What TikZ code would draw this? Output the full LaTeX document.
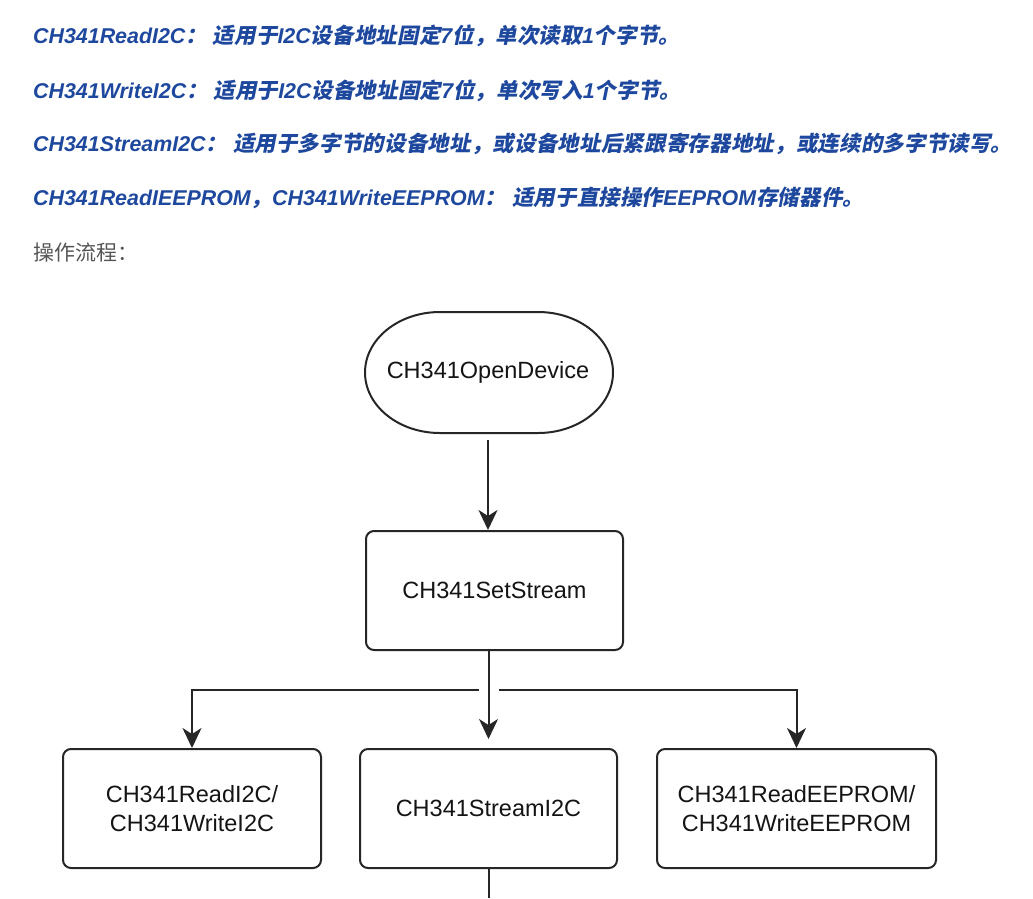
\documentclass[tikz,border=0pt]{standalone}
\usepackage{fontspec}
\setmainfont{Liberation Sans}
\newfontfamily\latf{Liberation Sans}
\newfontfamily\cjkf{Noto Sans CJK SC}[FakeSlant=0.2, LetterSpace=1.2]
\newfontfamily\cjkr{Noto Sans CJK SC}
\usetikzlibrary{arrows.meta}
\definecolor{hblue}{RGB}{30,72,158}
\definecolor{hgray}{RGB}{85,85,85}
\definecolor{lncol}{RGB}{38,38,38}
\definecolor{txcol}{RGB}{20,20,20}
\newcommand\myl[1]{{\latf\bfseries\itshape #1}}
\newcommand\myc[1]{{\cjkf\bfseries #1}}
\begin{document}
\begin{tikzpicture}[x=1pt,y=1pt,
  hd/.style={anchor=base west, inner sep=0, text=hblue, font=\fontsize{21.4}{25}\selectfont},
  box/.style={draw=lncol, line width=2pt, rounded corners=8pt, text=txcol,
    font=\fontsize{23.5}{29}\selectfont, align=center, inner sep=0, minimum height=119pt},
  conn/.style={draw=lncol, line width=2pt},
  arr/.style={conn, -{Stealth[length=20pt,width=19pt,inset=6pt]}}]
\useasboundingbox (0,0) rectangle (1033,-898);

% header text
\node[hd] (h1) at (33,-43) {\myl{CH341ReadI2C}\myc{：}\myl{~}\myc{适用于}\myl{I2C}\myc{设备地址固定}\myl{7}\myc{位，单次读取}\myl{1}\myc{个字节。}};
\node[hd] (h2) at (33,-98) {\myl{CH341WriteI2C}\myc{：}\myl{~}\myc{适用于}\myl{I2C}\myc{设备地址固定}\myl{7}\myc{位，单次写入}\myl{1}\myc{个字节。}};
\node[hd] (h3) at (33,-151) {\myl{CH341StreamI2C}\myc{：}\myl{~}\myc{适用于多字节的设备地址，或设备地址后紧跟寄存器地址，或连续的多字节读写。}};
\node[hd] (h4) at (33,-205) {\myl{CH341ReadIEEPROM}\myc{，}\myl{CH341WriteEEPROM}\myc{：}\myl{~}\myc{适用于直接操作}\myl{EEPROM}\myc{存储器件。}};
\node[hd, text=hgray, font=\fontsize{21}{25}\selectfont] (h5) at (33,-260) {\cjkr 操作流程：};

% start terminal
\node[inner sep=0, text=txcol, font=\fontsize{23.5}{29}\selectfont,
  minimum width=248pt, minimum height=121pt] (open) at (488,-372.5) {CH341OpenDevice};
\draw[conn] (440,-312) -- (538,-312)
  arc[start angle=90, end angle=-90, x radius=75, y radius=60.5]
  -- (440,-433)
  arc[start angle=-90, end angle=-270, x radius=75, y radius=60.5] -- cycle;

% boxes
\node[box, minimum width=257pt] (set) at (494.5,-590.5) {CH341SetStream};
\node[box, minimum width=258pt] (rw) at (192,-808.5) {CH341ReadI2C/\\CH341WriteI2C};
\node[box, minimum width=257pt] (st) at (488.5,-808.5) {CH341StreamI2C};
\node[box, minimum width=279pt] (ee) at (796.5,-808.5) {CH341ReadEEPROM/\\CH341WriteEEPROM};

% connectors
\draw[arr, shorten <=7pt] (open.south) -- (open.south |- set.north);
\draw[arr, shorten >=9pt] (st.north |- set.south) -- (st.north);
\coordinate (jl) at (479,-690);
\coordinate (jr) at (499,-690);
\draw[arr] (jl) -| (rw.north);
\draw[arr] (jr) -| (ee.north);
\coordinate (bot) at (488.5,-898);
\draw[conn] (st.south) -- (bot);
\end{tikzpicture}
\end{document}
